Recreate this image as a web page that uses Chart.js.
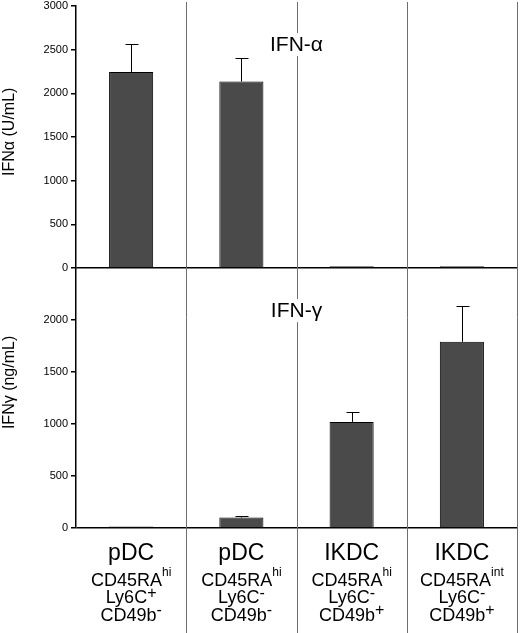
<!DOCTYPE html>
<html><head><meta charset="utf-8">
<script src="https://cdn.jsdelivr.net/npm/chart.js@4.4.1/dist/chart.umd.min.js"></script>
<style>html,body{margin:0;padding:0;background:#fff;}canvas{display:block;}</style>
</head><body>
<canvas id="c" width="520" height="633"></canvas>
<script>
const categories = ['pDC', 'pDC', 'IKDC', 'IKDC'];
const markerCD45 = ['hi', 'hi', 'hi', 'int'];
const markerLy6C = ['+', '-', '-', '-'];
const markerCD49b = ['-', '-', '+', '+'];
const ifnAlpha = [2245, 2135, 20, 20];
const ifnAlphaErr = [325, 265, 0, 0];
const ifnGamma = [15, 100, 1020, 1790];
const ifnGammaErr = [0, 12, 95, 340];
const alphaTicks = [0, 500, 1000, 1500, 2000, 2500, 3000];
const gammaTicks = [0, 500, 1000, 1500, 2000];

const FONT = '"Liberation Sans", Arial, Helvetica, sans-serif';
const BAR_FILL = '#4a4a4a';

const zeroLine = (ctx) => (ctx.tick && ctx.tick.value === 0) ? '#000' : 'rgba(0,0,0,0)';

const errorBars = {
  id: 'errorBars',
  afterDatasetsDraw(chart) {
    const ctx = chart.ctx;
    const errs = [ifnAlphaErr, ifnGammaErr];
    const vals = [ifnAlpha, ifnGamma];
    ctx.save();
    ctx.strokeStyle = '#000';
    ctx.lineWidth = 1;
    chart.data.datasets.forEach((ds, di) => {
      const meta = chart.getDatasetMeta(di);
      const ys = chart.scales[ds.yAxisID];
      meta.data.forEach((bar, i) => {
        const e = errs[di][i];
        if (!e) return;
        const x = Math.round(bar.x) + 0.5;
        const yTop = ys.getPixelForValue(vals[di][i]);
        const yE = Math.round(ys.getPixelForValue(vals[di][i] + e)) + 0.5;
        ctx.beginPath();
        ctx.moveTo(x, yTop);
        ctx.lineTo(x, yE);
        ctx.moveTo(x - 6, yE);
        ctx.lineTo(x + 7, yE);
        ctx.stroke();
      });
    });
    ctx.restore();
  }
};

const dividers = {
  id: 'dividers',
  beforeDatasetsDraw(chart) {
    const ctx = chart.ctx;
    const xs = chart.scales.x;
    ctx.save();
    ctx.strokeStyle = '#6e6e6e';
    ctx.lineWidth = 1;
    for (let i = 1; i <= categories.length; i++) {
      const x = Math.round(xs.getPixelForValue(i - 0.5)) + 0.5;
      ctx.beginPath();
      ctx.moveTo(x, 2);
      ctx.lineTo(x, chart.height);
      ctx.stroke();
    }
    ctx.restore();
  }
};

function supLine(ctx, cx, baseline, main, sup, mainFont, supFont, rise) {
  ctx.font = mainFont;
  const w1 = ctx.measureText(main).width;
  ctx.font = supFont;
  const w2 = ctx.measureText(sup).width;
  const x0 = cx - (w1 + w2) / 2;
  ctx.textAlign = 'left';
  ctx.textBaseline = 'alphabetic';
  ctx.font = mainFont;
  ctx.fillText(main, x0, baseline);
  ctx.font = supFont;
  ctx.fillText(sup, x0 + w1, baseline - rise);
}

const labels = {
  id: 'labels',
  afterDraw(chart) {
    const ctx = chart.ctx;
    const xs = chart.scales.x, yA = chart.scales.yA, yG = chart.scales.yG;
    const b = chart.chartArea.bottom;
    ctx.save();
    ctx.fillStyle = '#000';
    categories.forEach((name, i) => {
      const cx = xs.getPixelForValue(i);
      ctx.font = '23px ' + FONT;
      ctx.textAlign = 'center';
      ctx.textBaseline = 'alphabetic';
      ctx.fillText(name, cx, b + 32);
      supLine(ctx, cx, b + 58, 'CD45RA', markerCD45[i], '18px ' + FONT, '12px ' + FONT, 10);
      supLine(ctx, cx, b + 75, 'Ly6C', markerLy6C[i], '18px ' + FONT, '16px ' + FONT, 5);
      supLine(ctx, cx, b + 93, 'CD49b', markerCD49b[i], '18px ' + FONT, '16px ' + FONT, 6);
    });
    const panel = (txt, yPix) => {
      ctx.font = '21px ' + FONT;
      const w = ctx.measureText(txt).width;
      const cx = xs.getPixelForValue(1.5);
      ctx.fillStyle = '#fff';
      ctx.fillRect(cx - w / 2 - 2, yPix - 18, w + 4, 23);
      ctx.fillStyle = '#000';
      ctx.textAlign = 'center';
      ctx.textBaseline = 'alphabetic';
      ctx.fillText(txt, cx, yPix);
    };
    panel('IFN-α', yA.getPixelForValue(2485));
    panel('IFN-γ', yG.getPixelForValue(2028));
    const title = (txt, yPix) => {
      ctx.save();
      ctx.translate(10, yPix);
      ctx.rotate(-Math.PI / 2);
      ctx.font = '16px ' + FONT;
      ctx.textAlign = 'center';
      ctx.textBaseline = 'middle';
      ctx.fillText(txt, 0, 0);
      ctx.restore();
    };
    title('IFNα (U/mL)', yA.getPixelForValue(1560));
    title('IFNγ (ng/mL)', yG.getPixelForValue(1400));
    ctx.restore();
  }
};

const yCommon = (ticksArr, max, weight) => ({
  type: 'linear',
  position: 'left',
  stack: 'ifn',
  stackWeight: weight,
  min: 0,
  max: max,
  afterBuildTicks: (s) => { s.ticks = ticksArr.map(v => ({ value: v })); },
  afterFit: (s) => { s.width = 76; s.paddingTop = 0; s.paddingBottom = 0; },
  ticks: {
    color: '#000',
    font: { family: FONT, size: 11 },
    padding: 3,
    autoSkip: false,
    callback: (v) => String(v)
  },
  grid: {
    color: zeroLine,
    tickColor: '#000',
    tickLength: 5,
    lineWidth: 1.5
  },
  border: { display: true, color: '#000', width: 1.5 }
});

new Chart(document.getElementById('c'), {
  type: 'bar',
  data: {
    labels: categories,
    datasets: [
      {
        label: 'IFN-α', data: ifnAlpha, yAxisID: 'yA', grouped: false,
        backgroundColor: BAR_FILL, borderColor: '#000', borderWidth: 1,
        categoryPercentage: 1, barPercentage: 0.4
      },
      {
        label: 'IFN-γ', data: ifnGamma, yAxisID: 'yG', grouped: false,
        backgroundColor: BAR_FILL, borderColor: '#000', borderWidth: 1,
        categoryPercentage: 1, barPercentage: 0.4
      }
    ]
  },
  options: {
    responsive: false,
    animation: false,
    devicePixelRatio: 1,
    layout: { padding: { top: 6, right: 3, bottom: 105, left: 0 } },
    plugins: { legend: { display: false }, tooltip: { enabled: false }, title: { display: false } },
    scales: {
      x: { type: 'category', display: false, offset: true },
      yG: yCommon(gammaTicks, 2500, 260),
      yA: yCommon(alphaTicks, 3000, 262)
    }
  },
  plugins: [dividers, errorBars, labels]
});
</script>
</body></html>
